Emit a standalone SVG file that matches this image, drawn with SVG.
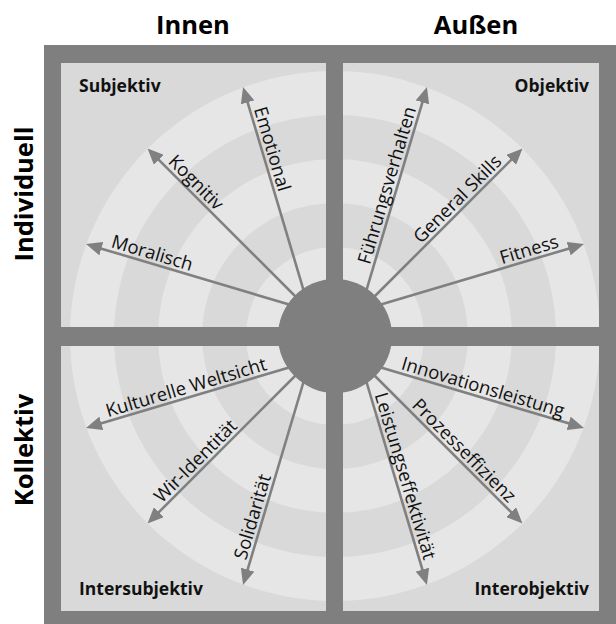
<svg xmlns="http://www.w3.org/2000/svg" width="616" height="624" viewBox="0 0 616 624">
  <style>
    .frame { fill: #7f7f7f; }
    .panel { fill: #d9d9d9; }
    .ring-light { fill: #e6e6e6; }
    .ring-dark { fill: #d9d9d9; }
    .hub { fill: #7f7f7f; }
    .axis { stroke: #808080; stroke-width: 2.6; fill: none; marker-end: url(#head); }
    .head { font-family: "Open Sans", "Liberation Sans", sans-serif; font-weight: bold; font-size: 25.5px; fill: #000; text-anchor: middle; }
    .corner { font-family: "Open Sans", "Liberation Sans", sans-serif; font-weight: bold; font-size: 17.5px; fill: #111; }
    .lbl { font-family: "Open Sans", "Liberation Sans", sans-serif; font-size: 18.5px; fill: #111; }
    .end { text-anchor: end; }
  </style>
  <defs>
    <marker id="head" markerUnits="userSpaceOnUse" markerWidth="16" markerHeight="14" viewBox="0 0 16 14" refX="6" refY="7" orient="auto">
      <path d="M0,0 L16,7 L0,14 z" fill="#808080"/>
    </marker>
    <clipPath id="panels">
      <rect x="61" y="63" width="265" height="264"/>
      <rect x="343" y="63" width="256" height="264"/>
      <rect x="61" y="346" width="265" height="265"/>
      <rect x="343" y="346" width="256" height="265"/>
    </clipPath>
  </defs>

  <!-- column and row headings -->
  <g id="heading-innen"><text class="head" x="193" y="34">Innen</text></g>
  <g id="heading-aussen"><text class="head" x="476" y="34">Außen</text></g>
  <g id="heading-individuell"><text class="head" transform="translate(33,194) rotate(-90)">Individuell</text></g>
  <g id="heading-kollektiv"><text class="head" transform="translate(33,450) rotate(-90)">Kollektiv</text></g>

  <!-- frame with four quadrant panels and concentric bands -->
  <g id="quadrants">
    <rect class="frame" x="44" y="45" width="580" height="590"/>
    <g clip-path="url(#panels)">
      <rect class="panel" x="61" y="63" width="548" height="548"/>
      <circle class="ring-light" cx="335" cy="336" r="265"/>
      <circle class="ring-dark" cx="335" cy="336" r="221"/>
      <circle class="ring-light" cx="335" cy="336" r="177"/>
      <circle class="ring-dark" cx="335" cy="336" r="133"/>
      <circle class="ring-light" cx="335" cy="336" r="89"/>
    </g>
  </g>

  <!-- quadrant titles -->
  <g id="q-subjektiv"><text class="corner" x="79" y="92">Subjektiv</text></g>
  <g id="q-objektiv"><text class="corner end" x="589" y="92">Objektiv</text></g>
  <g id="q-intersubjektiv"><text class="corner" x="79" y="595">Intersubjektiv</text></g>
  <g id="q-interobjektiv"><text class="corner end" x="589" y="595">Interobjektiv</text></g>

  <!-- arrows fanning out of the hub -->
  <g id="connectors">
    <line class="axis" x1="295" y1="306.3" x2="95.6" y2="246.9"/>
    <line class="axis" x1="300" y1="301" x2="154.6" y2="155.6"/>
    <line class="axis" x1="305.3" y1="296" x2="245.9" y2="96.6"/>
    <line class="axis" x1="364.7" y1="296" x2="424.1" y2="96.6"/>
    <line class="axis" x1="370" y1="301" x2="515.4" y2="155.6"/>
    <line class="axis" x1="375" y1="306.3" x2="574.4" y2="246.9"/>
    <line class="axis" x1="295" y1="365.7" x2="95.6" y2="425.1"/>
    <line class="axis" x1="300" y1="371" x2="154.6" y2="516.4"/>
    <line class="axis" x1="305.3" y1="376" x2="245.9" y2="575.4"/>
    <line class="axis" x1="375" y1="365.7" x2="574.4" y2="425.1"/>
    <line class="axis" x1="370" y1="371" x2="515.4" y2="516.4"/>
    <line class="axis" x1="364.7" y1="376" x2="424.1" y2="575.4"/>
  </g>

  <g id="hub"><circle class="hub" cx="335" cy="336" r="57"/></g>

  <!-- axis labels -->
  <g id="moralisch"><text class="lbl" transform="translate(110.2,247) rotate(16.6)">Moralisch</text></g>
  <g id="kognitiv"><text class="lbl" transform="translate(167.3,162.6) rotate(45)">Kognitiv</text></g>
  <g id="emotional"><text class="lbl" transform="translate(253.7,108.9) rotate(73.4)">Emotional</text></g>
  <g id="fuehrungsverhalten"><text class="lbl end" transform="translate(416.3,108.9) rotate(-73.4)">Führungsverhalten</text></g>
  <g id="general-skills"><text class="lbl end" transform="translate(502.7,162.6) rotate(-45)">General Skills</text></g>
  <g id="fitness"><text class="lbl end" transform="translate(559.8,247) rotate(-16.6)">Fitness</text></g>
  <g id="kulturelle-weltsicht"><text class="lbl" transform="translate(107.9,417.3) rotate(-16.6)">Kulturelle Weltsicht</text></g>
  <g id="wir-identitaet"><text class="lbl" transform="translate(161.7,503.7) rotate(-45)">Wir-Identität</text></g>
  <g id="solidaritaet"><text class="lbl" transform="translate(246,560.8) rotate(-73.4)">Solidarität</text></g>
  <g id="innovationsleistung"><text class="lbl end" transform="translate(562.1,417.3) rotate(16.6)">Innovationsleistung</text></g>
  <g id="prozesseffizienz"><text class="lbl end" transform="translate(508.3,503.7) rotate(45)">Prozesseffizienz</text></g>
  <g id="leistungseffektivitaet"><text class="lbl end" transform="translate(424,560.8) rotate(73.4)">Leistungseffektivität</text></g>
</svg>
